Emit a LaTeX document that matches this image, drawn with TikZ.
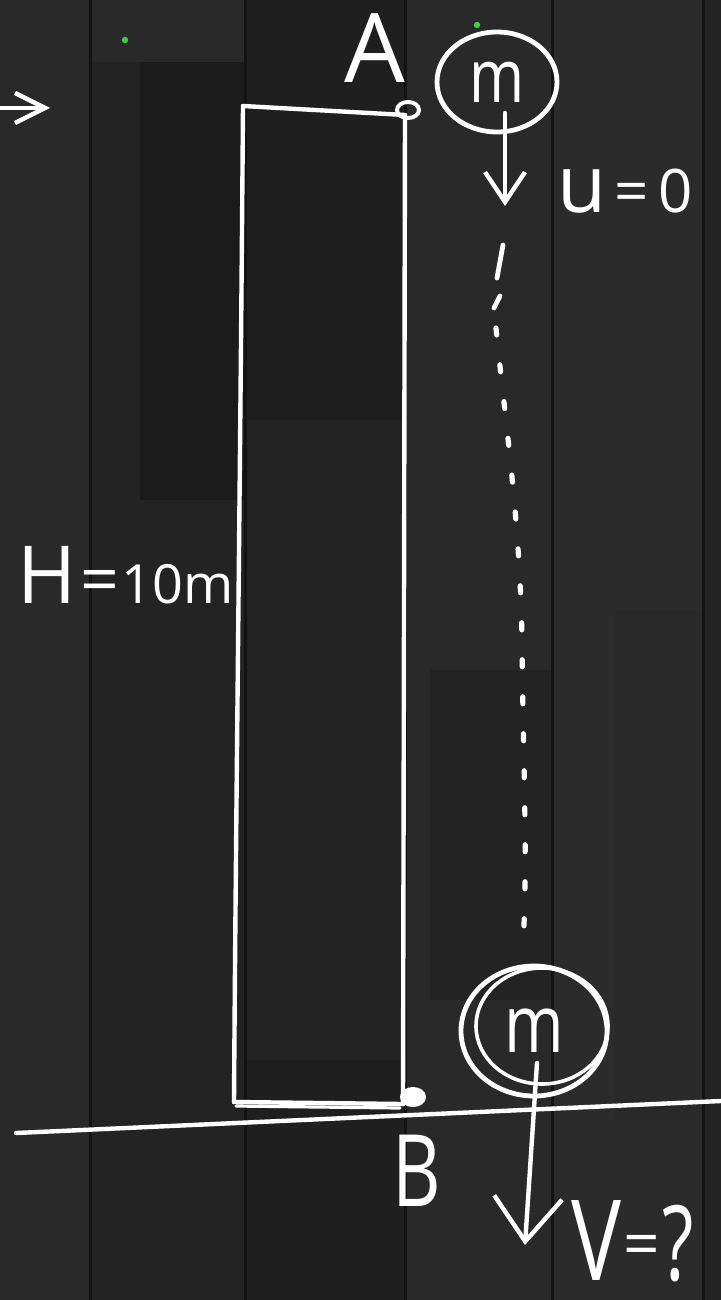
\documentclass[tikz,border=0pt]{standalone}
\usepackage{fontspec}
\setmainfont{Open Sans}
\usetikzlibrary{shapes.geometric,arrows.meta}
\definecolor{bgbase}{HTML}{242424}
\definecolor{plankA}{HTML}{292929}
\definecolor{plankB}{HTML}{232323}
\definecolor{plankC}{HTML}{1F1F1F}
\definecolor{plankD}{HTML}{2B2B2B}
\definecolor{plankdark}{HTML}{1B1B1B}
\definecolor{seam}{HTML}{131313}
\definecolor{dotgreen}{HTML}{3CD23C}
\begin{document}
\begin{tikzpicture}[x=0.5pt,y=-0.5pt,
  chalk/.style={draw=white,line width=2.2pt,line cap=round,line join=round},
  lbl/.style={text=white,inner sep=0pt},
  mass/.style={ellipse,draw=white,line width=2.4pt,inner sep=0pt,text=white},
  fall/.style={chalk,-{Straight Barb[length=15pt,width=20pt]}},
  fallbig/.style={chalk,-{Straight Barb[length=22pt,width=34pt]}},
  path/.style={draw=white,line width=2.6pt,line cap=round,dash pattern=on 3.5pt off 15pt},
]
\useasboundingbox (0,0) rectangle (721,1300);
\clip (0,0) rectangle (721,1300);
% background planks
\fill[bgbase] (0,0) rectangle (721,1300);
\fill[plankA] (0,0) rectangle (90,1300);
\fill[plankB] (90,0) rectangle (245,1300);
\fill[plankA] (90,0) rectangle (245,62);
\fill[plankdark] (140,62) rectangle (245,500);
\fill[plankC] (245,0) rectangle (405,1300);
\fill[plankB] (245,420) rectangle (405,1060);
\fill[plankA] (405,0) rectangle (552,1300);
\fill[plankB] (430,670) rectangle (552,1000);
\fill[plankD] (552,0) rectangle (703,1300);
\fill[plankA] (615,610) rectangle (700,1120);
\fill[plankB] (703,0) rectangle (721,1300);
\foreach \sx in {90,245,405,552,703}
  \fill[seam] (\sx-1.5,0) rectangle (\sx+1.5,1300);
\fill[dotgreen] (125,40) circle (1.6pt);
\fill[dotgreen] (477,25) circle (1.6pt);

% left arrow
\coordinate (arrL) at (0,108);
\coordinate (arrR) at (50,108);
\draw[chalk,-{Straight Barb[length=15pt,width=15pt]}] (arrL) -- (arrR);

% tower
\coordinate (TL) at (243,106);
\coordinate (TR) at (405,115);
\coordinate (BL) at (234,1102);
\coordinate (BR) at (403,1104);
\draw[chalk] (TL) -- (TR) -- (BR);
\draw[chalk] (TL) .. controls (240,500) and (236,800) .. (BL);
\draw[chalk] (BL) -- (BR);
\draw[chalk,line width=1.6pt] (236,1106) -- (400,1108);
\node[ellipse,draw=white,line width=2pt,minimum width=11pt,minimum height=8pt,inner sep=0pt] (Adot) at (408,110) {};
\node[ellipse,draw=white,fill=white,line width=2pt,minimum width=11pt,minimum height=8pt,inner sep=0pt] (Bdot) at (413,1097) {};

% ground
\coordinate (G1) at (16,1133);
\coordinate (G2) at (721,1101);
\draw[chalk] (G1) -- (G2);

% labels
\node[lbl] (A) at (375,48) {\fontsize{48}{48}\selectfont A};
\node[lbl] (B) at (417,1171) {\scalebox{0.75}[1]{\fontsize{50}{50}\selectfont B}};
\node[lbl,anchor=base west] (H) at (17,603) {\fontsize{40}{40}\selectfont H\kern2pt\fontsize{34}{34}\selectfont =\kern1pt\fontsize{27}{27}\selectfont 10m};
\node[lbl,anchor=base west] (u) at (557,213) {\fontsize{40}{40}\selectfont u\kern4pt\fontsize{30}{30}\selectfont =\kern5pt 0};
\node[lbl,anchor=base west] (V) at (571,1280) {\scalebox{0.75}[1]{\fontsize{56}{56}\selectfont V}\kern1pt\raisebox{7pt}{\fontsize{32}{32}\selectfont =}\kern1pt\scalebox{0.7}[1]{\fontsize{52}{52}\selectfont ?}};

% masses
\node[mass,minimum width=60pt,minimum height=50pt] (mtop) at (497,82) {\scalebox{0.8}[1]{\fontsize{37}{37}\selectfont m}};
\node[mass,minimum width=73pt,minimum height=65pt] (mbot) at (534,1031) {\scalebox{0.8}[1]{\fontsize{40}{40}\selectfont m}};
\draw[chalk,line width=1.8pt] (mbot.center) ++(8,-5) ellipse [x radius=33pt, y radius=29pt];

% velocity arrows
\coordinate (utip) at (505,206);
\draw[fall] (mtop.center) ++(8,31) -- (utip);
\coordinate (vtip) at (525,1245);
\draw[fallbig] (mbot.center) ++(3,32) -- (vtip);

% trajectory
\draw[chalk,line width=2.4pt] (503,245) -- (497,278);
\draw[chalk,line width=2.4pt] (500,296) -- (494,308);
\draw[path] (496,328) .. controls (505,420) and (520,520) .. (522,640) .. controls (523,760) and (528,860) .. (523,945);
\end{tikzpicture}
\end{document}
